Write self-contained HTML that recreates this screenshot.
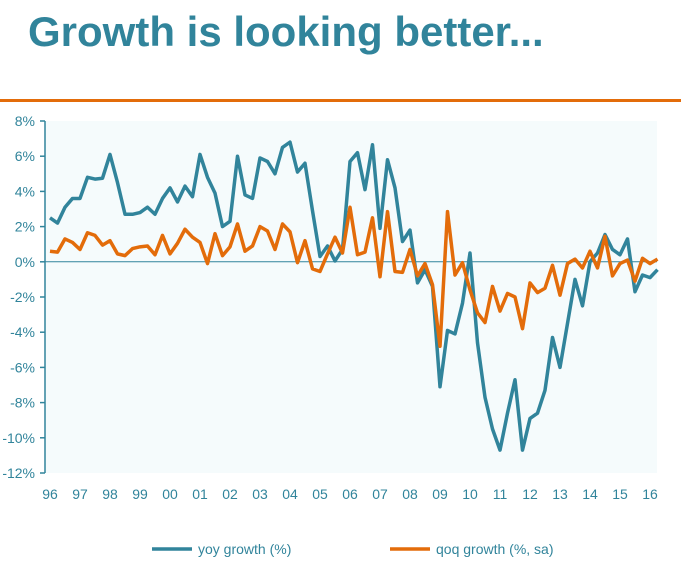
<!DOCTYPE html>
<html><head><meta charset="utf-8"><style>
body{margin:0;width:681px;height:581px;background:#fff;font-family:"Liberation Sans",sans-serif;overflow:hidden}
#title{position:absolute;left:28px;top:8px;font-size:42px;font-weight:bold;color:#31849b;margin:0}
#rule{position:absolute;left:0;top:99px;width:681px;height:3px;background:#e36c0a}
svg{position:absolute;left:0;top:0}
</style></head><body>
<h1 id="title">Growth is looking better...</h1>
<div id="rule"></div>
<svg id="chart" width="681" height="581"></svg>
<script>
const yoy=[2.5,2.2,3.1,3.6,3.6,4.8,4.7,4.75,6.1,4.5,2.7,2.7,2.8,3.1,2.7,3.6,4.2,3.4,4.3,3.7,6.1,4.8,3.9,2.0,2.3,6.0,3.8,3.6,5.9,5.7,5.0,6.5,6.8,5.1,5.6,2.9,0.3,0.9,0.05,0.7,5.7,6.2,4.1,6.65,1.9,5.8,4.2,1.15,1.8,-1.2,-0.45,-1.4,-7.1,-3.9,-4.1,-2.35,0.5,-4.6,-7.7,-9.5,-10.7,-8.6,-6.7,-10.7,-8.9,-8.6,-7.3,-4.3,-6.0,-3.5,-1.0,-2.5,0,0.5,1.55,0.7,0.4,1.3,-1.7,-0.75,-0.9,-0.45];
const qoq=[0.6,0.55,1.3,1.1,0.7,1.65,1.5,0.95,1.2,0.45,0.35,0.75,0.85,0.9,0.4,1.5,0.45,1.05,1.85,1.4,1.1,-0.1,1.6,0.35,0.85,2.15,0.6,0.9,2.0,1.75,0.7,2.15,1.7,-0.05,1.2,-0.4,-0.55,0.45,1.4,0.5,3.1,0.4,0.55,2.5,-0.85,2.85,-0.55,-0.6,0.7,-0.8,-0.1,-1.3,-4.8,2.85,-0.75,-0.05,-1.6,-2.9,-3.45,-1.4,-2.8,-1.8,-2.0,-3.8,-1.2,-1.75,-1.5,-0.2,-1.9,-0.1,0.15,-0.35,0.6,-0.35,1.45,-0.8,-0.1,0.1,-1.1,0.2,-0.1,0.15];
const yTicks=[8,6,4,2,0,-2,-4,-6,-8,-10,-12];
const xLabels=["96","97","98","99","00","01","02","03","04","05","06","07","08","09","10","11","12","13","14","15","16"];
const NS="http://www.w3.org/2000/svg",svg=document.getElementById('chart');
const L=45,R=657,T=121,B=473;
const y=v=>T+(8-v)*(B-T)/20;
const x=i=>50+i*7.5;
function el(t,a,p){const e=document.createElementNS(NS,t);for(const k in a)e.setAttribute(k,a[k]);(p||svg).appendChild(e);return e;}
const bg=el('rect',{x:L,y:T,width:R-L,height:B-T,fill:'#f5fbfc'});


const ax=el('line',{x1:L,y1:T,x2:L,y2:B,stroke:'#31849b','stroke-width':1.5});


yTicks.forEach(t=>{
 el('line',{x1:L-5,y1:y(t),x2:L,y2:y(t),stroke:'#31849b','stroke-width':1.5});
 const tx=el('text',{x:35,y:y(t)+5,'text-anchor':'end','font-size':14,fill:'#31849b'});tx.textContent=t+'%';
 
 
});
const z=el('line',{x1:L,y1:y(0),x2:R,y2:y(0),stroke:'#31849b','stroke-width':1});


xLabels.forEach((l,i)=>{
 const tx=el('text',{x:x(i*4),y:499,'text-anchor':'middle','font-size':14,fill:'#31849b'});tx.textContent=l;
 
 
});
function line(d,c,n){const p=el('polyline',{points:d.map((v,i)=>x(i)+','+y(v)).join(' '),fill:'none',stroke:c,'stroke-width':3.5,'stroke-linejoin':'round'});
 
 }
line(yoy,'#31849b','yoy-line');
line(qoq,'#e36c0a','qoq-line');
[[152,'#31849b','yoy growth (%)','legend-yoy'],[390,'#e36c0a','qoq growth (%, sa)','legend-qoq']].forEach(([lx,c,t,n])=>{
 const g=el('g',{});
 
 
 el('line',{x1:lx,y1:549,x2:lx+40,y2:549,stroke:c,'stroke-width':3.5},g);
 const tx=el('text',{x:lx+46,y:554,'font-size':14,fill:'#31849b'},g);tx.textContent=t;
});
</script>
</body></html>
